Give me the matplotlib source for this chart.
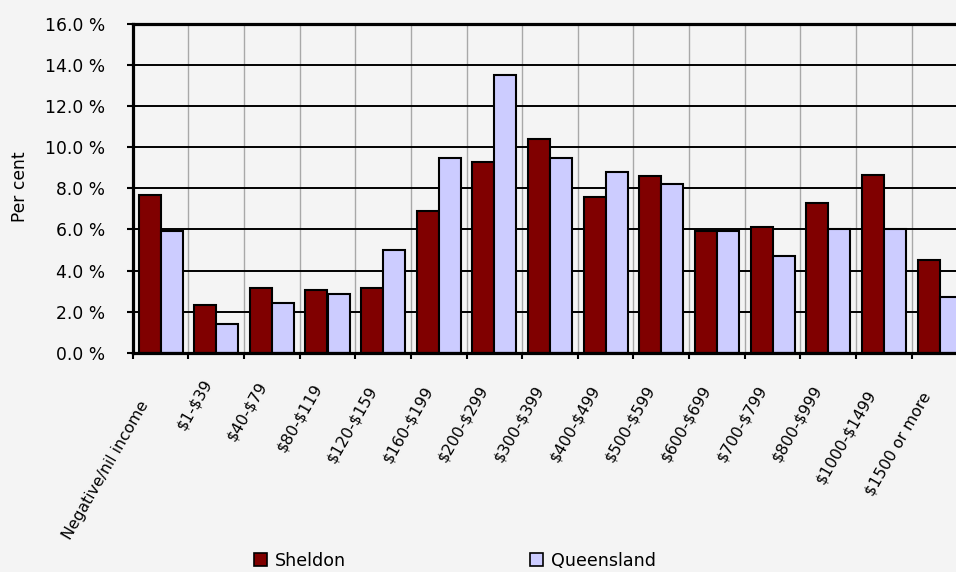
import matplotlib
matplotlib.use("Agg")
import matplotlib.pyplot as plt
import matplotlib.transforms as mtransforms
from matplotlib.patches import Patch
import numpy as np

categories = ["Negative/nil income", "$1-$39", "$40-$79", "$80-$119", "$120-$159",
              "$160-$199", "$200-$299", "$300-$399", "$400-$499", "$500-$599",
              "$600-$699", "$700-$799", "$800-$999", "$1000-$1499", "$1500 or more"]
sheldon = [7.7, 2.3, 3.15, 3.05, 3.15, 6.9, 9.3, 10.4, 7.6, 8.6, 5.9, 6.1, 7.3, 8.65, 4.5]
queensland = [5.9, 1.4, 2.4, 2.88, 5.0, 9.5, 13.5, 9.5, 8.8, 8.2, 5.9, 4.7, 6.0, 6.0, 2.7]
series_names = ["Sheldon", "Queensland"]
y_ticks = [0, 2, 4, 6, 8, 10, 12, 14, 16]

BG = "#F4F4F4"
plt.rcParams['font.family'] = ['DejaVu Sans']
plt.rcParams['text.parse_math'] = False

W, H = 956, 572
fig = plt.figure(figsize=(W / 100, H / 100), dpi=100, facecolor=BG)
left_px, right_px, top_px, bottom_px = 132.7, 132.7 + 15 * 55.64, 24.0, 352.7
ax = fig.add_axes([left_px / W, 1 - bottom_px / H, (right_px - left_px) / W, (bottom_px - top_px) / H])
ax.set_facecolor(BG)

x = np.arange(len(categories))
bw = 0.395
ax.bar(x - 0.197, sheldon, width=bw, color="#800000", edgecolor="black", linewidth=1.5, zorder=3)
ax.bar(x + 0.200, queensland, width=bw, color="#CCCCFF", edgecolor="black", linewidth=1.5, zorder=3)

ax.set_xlim(-0.5, len(categories) - 0.5)
ax.set_ylim(0, 16)
ax.set_yticks(y_ticks)
ax.set_yticklabels([f"{v:.1f} %" for v in y_ticks])
ax.set_xticks(np.arange(len(categories) + 1) - 0.5)
ax.set_xticklabels([])

ax.set_axisbelow(True)
ax.yaxis.grid(True, color="black", linewidth=1.4, zorder=1)
ax.xaxis.grid(True, color="#A8A8A8", linewidth=1.0, zorder=1)

for side in ["left", "top", "bottom"]:
    ax.spines[side].set_linewidth(2.3)
    ax.spines[side].set_color("black")
    ax.spines[side].set_zorder(5)
ax.spines["right"].set_visible(False)

ax.tick_params(axis="y", direction="out", length=4.5, width=1.5, pad=15.5, labelsize=12.3)
ax.tick_params(axis="x", direction="out", length=4, width=1.5)

fig.text(20 / W, 1 - 187 / H, "Per cent", rotation=90, ha="center", va="center", fontsize=12.3)

renderer = fig.canvas.get_renderer()
base = mtransforms.blended_transform_factory(ax.transData, ax.transAxes)
for i, lab in enumerate(categories):
    t = ax.text(i, 0, lab, fontsize=11.3, ha="right", va="baseline", rotation_mode="anchor",
                transform=base, clip_on=False)
    w = t.get_window_extent(renderer).width
    dx = 0.8 - 0.075 * w
    dy = -(18.0 + 0.216 * w)
    t.set_transform(base + mtransforms.ScaledTranslation(dx / 100, dy / 100, fig.dpi_scale_trans))
    t.set_rotation(60)

handles = [Patch(facecolor="#800000", edgecolor="black", linewidth=1.2),
           Patch(facecolor="#CCCCFF", edgecolor="black", linewidth=1.2)]
fig.legend(handles, series_names, ncol=2, loc="upper left", bbox_to_anchor=(254 / W, 1 - 552 / H),
           frameon=False, borderpad=0, borderaxespad=0, handlelength=0.75, handleheight=0.75,
           handletextpad=0.45, columnspacing=10.5, fontsize=12.6)

fig.savefig("out.png", dpi=100, facecolor=BG)
